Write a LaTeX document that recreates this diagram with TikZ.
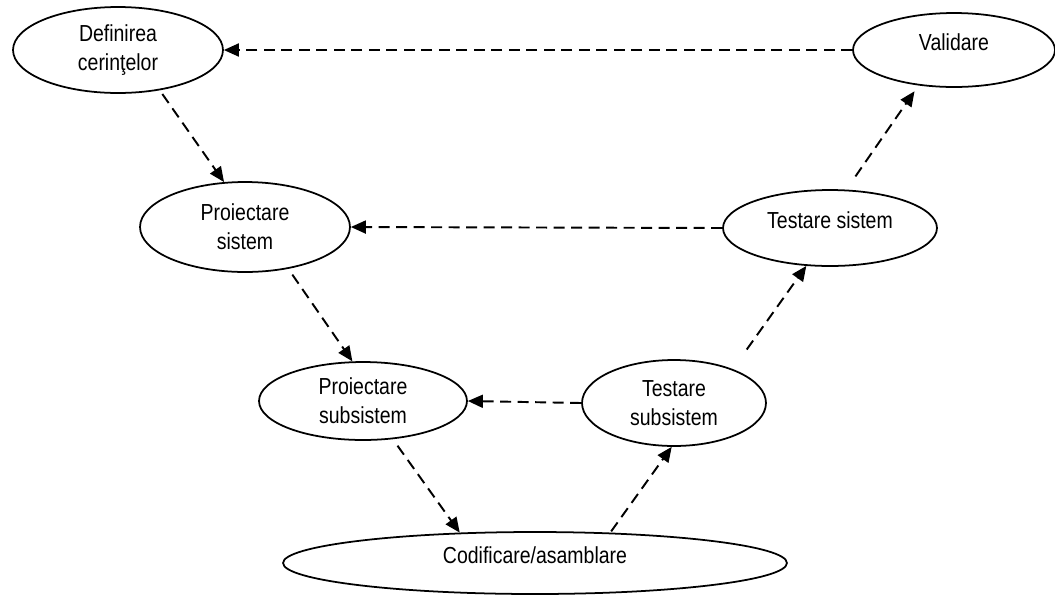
\documentclass[tikz,border=0pt]{standalone}
\usepackage{fontspec}
\setmainfont{Liberation Sans}[FakeStretch=0.84]
\usetikzlibrary{shapes.geometric,arrows.meta}

\begin{document}
\begin{tikzpicture}[x=0.02cm,y=-0.02cm,
  stage/.style={draw,ellipse,line width=1pt,inner sep=0pt,align=center,
    font=\fontsize{13.2pt}{16.5pt}\selectfont},
  upper/.style={text height=0.3cm,text depth=0.3cm},
  flow/.style={line width=1.1pt,dash pattern=on 0.22cm off 0.13cm,
    -{Triangle[length=0.3cm,width=0.26cm]}}]
  \useasboundingbox (0,0) rectangle (1055,596);
  % the stages of the V
  \node[stage,minimum width=4.2cm,minimum height=1.72cm] (def) at (118,50) {Definirea\\cerinţelor};
  \node[stage,upper,minimum width=4.04cm,minimum height=1.48cm] (val) at (954,50) {Validare};
  \node[stage,minimum width=4.2cm,minimum height=1.8cm] (ps) at (245,227) {Proiectare\\sistem};
  \node[stage,upper,minimum width=4.28cm,minimum height=1.52cm] (ts) at (830,228) {Testare sistem};
  \node[stage,minimum width=4.16cm,minimum height=1.56cm] (psub) at (363,401) {Proiectare\\subsistem};
  \node[stage,minimum width=3.68cm,minimum height=1.72cm] (tsub) at (674,403) {Testare\\subsistem};
  \node[stage,upper,minimum width=10.08cm,minimum height=1.24cm] (cod) at (535,563) {Codificare/asamblare};
  % going down
  \draw[flow,shorten <=0.09cm] (def.-44) -- (ps.115);
  \draw[flow,shorten <=0.14cm] (ps.-44) -- (psub.105);
  \draw[flow,shorten <=0.16cm] (psub.-52) -- (cod.158.6);
  % going up
  \draw[flow,shorten <=0.03cm] (cod.22) -- (tsub.-93);
  \draw[flow,shorten <=0.48cm] (tsub.30) -- (ts.-122);
  \draw[flow,shorten <=0.32cm,shorten >=0.14cm] (ts.67) -- (val.-135);
  % feedback
  \draw[flow] (val.west) -- (def.east);
  \draw[flow] (ts.west) -- (ps.east);
  \draw[flow] (tsub.west) -- (psub.east);
\end{tikzpicture}
\end{document}
